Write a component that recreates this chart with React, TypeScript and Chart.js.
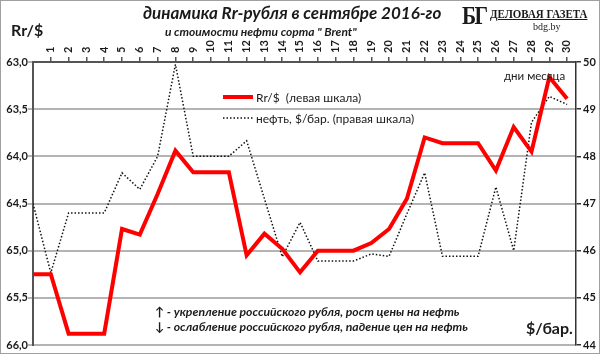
import React, { useEffect, useRef } from "react";
import { Chart, registerables } from "chart.js";

Chart.register(...registerables);

const days = [0, 1, 2, 3, 4, 5, 6, 7, 8, 9, 10, 11, 12, 13, 14, 15, 16, 17, 18, 19, 20, 21, 22, 23, 24, 25, 26, 27, 28, 29, 30];
const dayTicks = [1, 2, 3, 4, 5, 6, 7, 8, 9, 10, 11, 12, 13, 14, 15, 16, 17, 18, 19, 20, 21, 22, 23, 24, 25, 26, 27, 28, 29, 30];
const rubTicks = [63, 63.5, 64, 64.5, 65, 65.5, 66];
const oilTicks = [44, 45, 46, 47, 48, 49, 50];
const rubRate = [65.25, 65.25, 65.88, 65.88, 65.88, 64.77, 64.83, 64.4, 63.94, 64.17, 64.17, 64.17, 65.05, 64.82, 64.98, 65.23, 65.0, 65.0, 65.0, 64.92, 64.77, 64.45, 63.8, 63.86, 63.86, 63.86, 64.15, 63.69, 63.95, 63.16, 63.39];
const oilPrice = [47.0, 45.53, 46.8, 46.8, 46.8, 47.65, 47.3, 48.0, 49.95, 48.0, 48.0, 48.0, 48.33, 47.1, 45.87, 46.6, 45.78, 45.78, 45.78, 45.93, 45.88, 46.78, 47.65, 45.88, 45.88, 45.88, 47.35, 46.0, 48.72, 49.27, 49.1];
const rubLabel = "Rr/$  (левая шкала)";
const oilLabel = "нефть, $/бар. (правая шкала)";

const FONT = "Lato, 'Open Sans', sans-serif";

const legendPlugin = {
  id: "innerLegend",
  afterDraw(chart: any) {
    const ctx = chart.ctx;
    const ds = chart.data.datasets;
    const items = [
      { y: 97, d: ds[0] },
      { y: 118, d: ds[1] },
    ];
    ctx.save();
    items.forEach(({ y, d }) => {
      ctx.beginPath();
      ctx.strokeStyle = d.borderColor;
      ctx.lineWidth = d.borderWidth;
      ctx.setLineDash(d.borderDash || []);
      ctx.moveTo(223, y);
      ctx.lineTo(253, y);
      ctx.stroke();
      ctx.setLineDash([]);
      ctx.fillStyle = "#1a1a1a";
      ctx.font = "12px " + FONT;
      ctx.textBaseline = "middle";
      ctx.textAlign = "left";
      ctx.fillText(d.label, 256, y + 1);
    });
    ctx.restore();
  },
};

export default function App() {
  const ref = useRef<HTMLCanvasElement>(null);
  useEffect(() => {
    const canvas = ref.current!;
    const chart = new Chart(canvas, {
      type: "line",
      data: {
        datasets: [
          {
            label: rubLabel,
            data: days.map((d, i) => ({ x: d, y: rubRate[i] })),
            borderColor: "#ff0000",
            borderWidth: 4,
            pointRadius: 0,
            yAxisID: "y",
            xAxisID: "x",
            tension: 0,
          },
          {
            label: oilLabel,
            data: days.map((d, i) => ({ x: d, y: oilPrice[i] })),
            borderColor: "#111111",
            borderWidth: 1.5,
            borderDash: [1.5, 2],
            pointRadius: 0,
            yAxisID: "y1",
            xAxisID: "x",
            tension: 0,
          },
        ],
      },
      options: {
        animation: false,
        responsive: false,
        devicePixelRatio: 1,
        layout: { padding: { top: 0, bottom: 9, left: 0, right: 0 } },
        plugins: { legend: { display: false }, tooltip: { enabled: false }, title: { display: false } },
        scales: {
          x: {
            type: "linear",
            position: "top",
            min: 0,
            max: 30.5,
            afterBuildTicks: (s: any) => {
              s.ticks = dayTicks.map((v) => ({ value: v }));
            },
            afterFit: (s: any) => {
              s.height = 62;
            },
            ticks: {
              autoSkip: false,
              minRotation: 90,
              maxRotation: 90,
              padding: 4,
              labelOffset: 13,
              color: "#1a1a1a",
              font: { family: FONT, size: 11, weight: "bold" },
            },
            grid: { drawOnChartArea: false, tickLength: 5, color: "#555", lineWidth: 1.5 },
            border: { color: "#555", width: 2 },
          },
          y: {
            position: "left",
            reverse: true,
            min: 63,
            max: 66,
            afterBuildTicks: (s: any) => {
              s.ticks = rubTicks.map((v) => ({ value: v }));
            },
            afterFit: (s: any) => {
              s.width = 33;
            },
            ticks: {
              padding: 0,
              color: "#1a1a1a",
              font: { family: FONT, size: 11, weight: "bold" },
              callback: (v: any) => Number(v).toFixed(1).replace(".", ","),
            },
            grid: { color: "#b4b4b4", lineWidth: 2, tickLength: 5 },
            border: { color: "#555", width: 2 },
          },
          y1: {
            position: "right",
            min: 44,
            max: 50,
            afterBuildTicks: (s: any) => {
              s.ticks = oilTicks.map((v) => ({ value: v }));
            },
            afterFit: (s: any) => {
              s.width = 24;
            },
            ticks: {
              padding: 2,
              color: "#1a1a1a",
              font: { family: FONT, size: 11, weight: "bold" },
            },
            grid: { drawOnChartArea: false, tickLength: 5, color: "#333", lineWidth: 1.5 },
            border: { color: "#333", width: 1.5 },
          },
        },
      },
      plugins: [legendPlugin],
    } as any);
    return () => chart.destroy();
  }, []);

  const txt = (style: React.CSSProperties, content: React.ReactNode) => (
    <div style={{ position: "absolute", whiteSpace: "nowrap", color: "#1a1a1a", fontFamily: FONT, lineHeight: 1, ...style }}>{content}</div>
  );

  return (
    <div style={{ position: "fixed", left: 0, top: 0, width: 600, height: 354, background: "#fff", overflow: "hidden" }}>
      <canvas ref={ref} width={600} height={354} style={{ position: "absolute", left: 0, top: 0 }} />
      {txt({ left: 143, top: 4, fontSize: 17, fontWeight: "bold", fontStyle: "italic" }, "динамика Rr-рубля в сентябре 2016-го")}
      {txt({ left: 165, top: 26, fontSize: 12, fontWeight: "bold", fontStyle: "italic" }, "и стоимости  нефти сорта \" Brent\"")}
      {txt({ left: 11, top: 22, fontSize: 16, fontWeight: "bold" }, "Rr/$")}
      {txt({ left: 462, top: 3, fontSize: 26, fontWeight: "bold", fontFamily: "'Liberation Serif', 'DejaVu Serif', serif", letterSpacing: -2, transform: "scaleX(0.82)", transformOrigin: "left" }, "БГ")}
      {txt({ left: 490, top: 9, fontSize: 11.5, fontWeight: "bold", fontFamily: "'Liberation Serif', serif", textDecoration: "underline", transform: "scaleX(0.95)", transformOrigin: "left" }, "ДЕЛОВАЯ ГАЗЕТА")}
      {txt({ left: 533, top: 22, fontSize: 10, fontFamily: "'Liberation Serif', serif" }, "bdg.by")}
      {txt({ left: 504, top: 70, fontSize: 11.5 }, "дни месяца")}
      {txt({ left: 526, top: 320, fontSize: 16, fontWeight: "bold" }, "$/бар.")}
      {txt({ left: 155, top: 306, fontSize: 12.2, fontWeight: "bold", fontStyle: "italic" }, <><span style={{ fontStyle: "normal" }}>↑</span> - укрепление российского рубля, рост цены на нефть</>)}
      {txt({ left: 155, top: 321, fontSize: 12.2, fontWeight: "bold", fontStyle: "italic" }, <><span style={{ fontStyle: "normal" }}>↓</span> - ослабление российского рубля, падение цен на нефть</>)}
      <div style={{ position: "absolute", left: 0, top: 0, width: 600, height: 354, boxSizing: "border-box", border: "1px solid #a0a0a0", pointerEvents: "none" }} />
    </div>
  );
}
